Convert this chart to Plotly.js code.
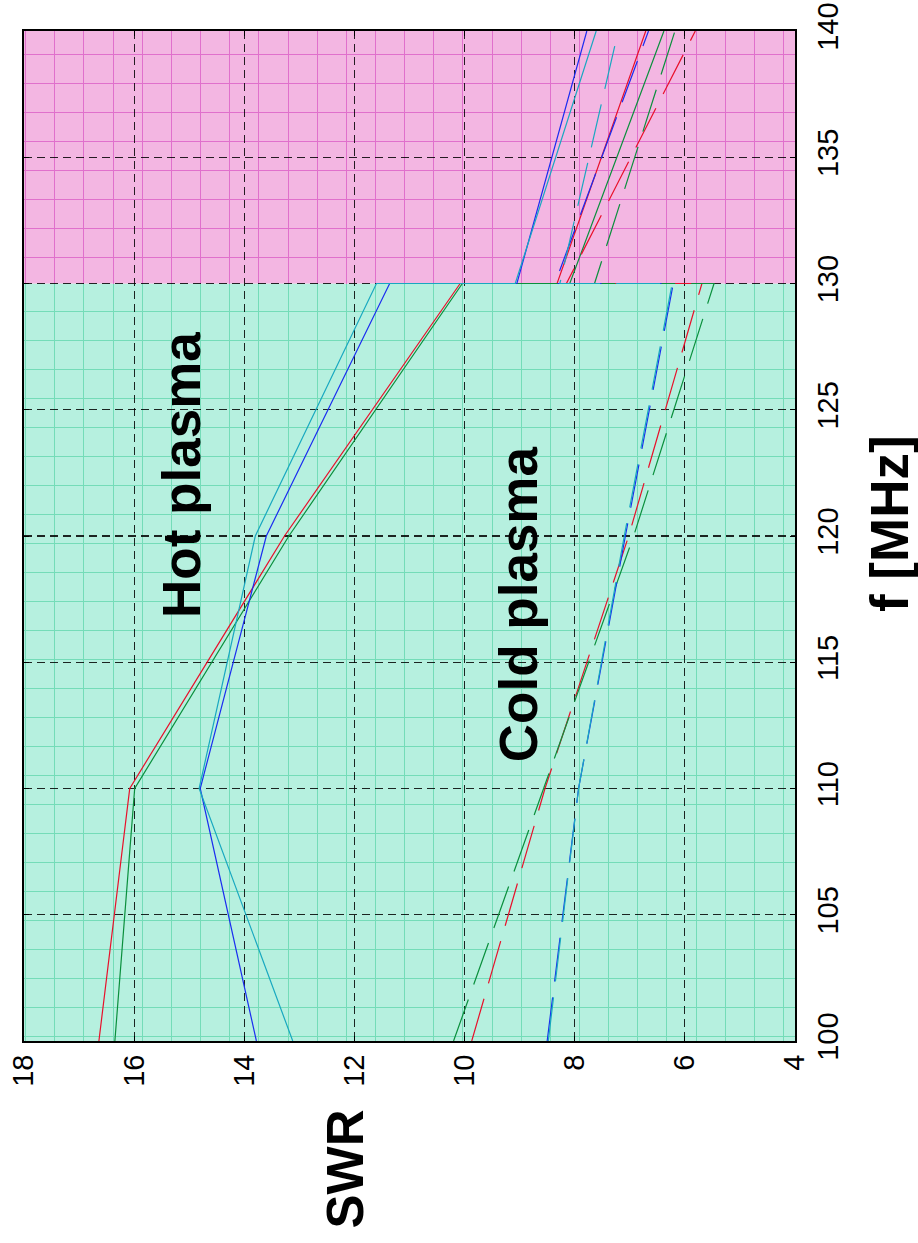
<!DOCTYPE html>
<html>
<head>
<meta charset="utf-8">
<script src="https://cdn.plot.ly/plotly-3.0.1.min.js"></script>
<style>html,body{margin:0;padding:0;background:#fff;}#chart{width:918px;height:1243px;}</style>
</head>
<body>
<div id="chart"></div>
<script>
// Frequency samples (MHz); the value at 130 MHz appears twice (jump between regimes)
var freq = [100, 110, 120, 130, 130, 140];

// Hot plasma SWR (solid lines)
var hotRed   = [16.64, 16.08, 13.27, 10.08, 8.32, 6.71];
var hotGreen = [16.35, 15.99, 13.19, 10.04, 8.09, 6.38];
var hotBlue  = [13.78, 14.80, 13.60, 11.36, 9.05, 7.78];
var hotCyan  = [13.12, 14.82, 13.80, 11.60, 9.08, 7.61];

// Cold plasma SWR (dashed lines)
var coldRed   = [9.87, 8.54, 7.02, 5.69, 8.15, 5.81];
var coldGreen = [10.20, 8.57, 6.93, 5.47, 7.64, 6.18];
var coldBlue  = [8.50, 7.93, 7.08, 6.21, 8.36, 6.66];
var coldCyan  = [8.48, 7.93, 7.10, 6.23, 8.27, 7.21];

// Axis ticks
var swrTicks = [4, 6, 8, 10, 12, 14, 16, 18];
var freqTicks = [100, 105, 110, 115, 120, 125, 130, 135, 140];

// Shaded regions (f ranges)
var regionLow = [100, 130];
var regionHigh = [130, 140];

var colors = {red: '#e8102a', green: '#0a8f3c', blue: '#1a2cf0', cyan: '#18a8c0'};

function series(x, color, dashed) {
  return {
    x: x, y: freq, type: 'scatter', mode: 'lines',
    xaxis: 'x3', yaxis: 'y3', showlegend: false, hoverinfo: 'skip',
    line: {color: color, width: 1.2, dash: dashed ? '44px,16px' : 'solid'}
  };
}

var traces = [
  {x: [], y: [], xaxis: 'x', yaxis: 'y', type: 'scatter', mode: 'lines', showlegend: false, hoverinfo: 'skip'},
  {x: [], y: [], xaxis: 'x2', yaxis: 'y2', type: 'scatter', mode: 'lines', showlegend: false, hoverinfo: 'skip'},
  series(hotRed, colors.red, false),
  series(hotGreen, colors.green, false),
  series(hotBlue, colors.blue, false),
  series(hotCyan, colors.cyan, false),
  series(coldRed, colors.red, true),
  series(coldGreen, colors.green, true),
  series(coldBlue, colors.blue, true),
  series(coldCyan, colors.cyan, true)
];

var W = 918, H = 1243, ml = 24, mr = 123, mt = 31, mb = 202;
var pw = W - ml - mr, ph = H - mt - mb;

function paperGridX(color, anchor) {
  return {domain: [0, 1], range: [0, pw], anchor: anchor, showgrid: true, gridcolor: color, gridwidth: 1,
    tick0: 30.8, dtick: 29.15, zeroline: false, showticklabels: false, ticks: '', showline: false, fixedrange: true};
}
function paperGridY(color, anchor, dom, len, t0) {
  return {domain: dom, range: [0, len], anchor: anchor, showgrid: true, gridcolor: color, gridwidth: 1,
    tick0: t0, dtick: 29, zeroline: false, showticklabels: false, ticks: '', showline: false, fixedrange: true};
}

var font = 'Liberation Sans, Arial, Helvetica, sans-serif';

var layout = {
  width: W, height: H,
  margin: {l: ml, r: mr, t: mt, b: mb},
  paper_bgcolor: '#ffffff',
  plot_bgcolor: 'rgba(0,0,0,0)',
  showlegend: false,
  font: {family: font, color: '#000'},
  xaxis: paperGridX('#74dcb8', 'y'),
  yaxis: paperGridY('#74dcb8', 'x', [0, 0.75], ph * 0.75, 4.7),
  xaxis2: paperGridX('#e070cc', 'y2'),
  yaxis2: paperGridY('#e070cc', 'x2', [0.75, 1], ph * 0.25, 26.2),
  xaxis3: {
    domain: [0, 1], anchor: 'y3', range: [18, 4],
    tickvals: swrTicks, ticktext: swrTicks.map(String), tickangle: -90,
    tickfont: {size: 29, family: font, color: '#000'},
    showgrid: true, gridcolor: 'rgba(0,0,0,0.85)', gridwidth: 1.1, griddash: '8px,5px',
    zeroline: false, showline: true, linecolor: '#000', linewidth: 2, mirror: 'ticks',
    ticks: 'inside', ticklen: 5, tickcolor: '#000', ticklabelstandoff: 0, fixedrange: true
  },
  yaxis3: {
    domain: [0, 1], anchor: 'x3', side: 'right', range: [100, 140],
    tickvals: freqTicks, ticktext: freqTicks.map(String), tickangle: -90,
    tickfont: {size: 29, family: font, color: '#000'},
    showgrid: true, gridcolor: 'rgba(0,0,0,0.85)', gridwidth: 1.1, griddash: '8px,5px',
    zeroline: false, showline: true, linecolor: '#000', linewidth: 2, mirror: 'ticks',
    ticks: 'inside', ticklen: 5, tickcolor: '#000', ticklabelstandoff: 6, fixedrange: true
  },
  shapes: [
    {type: 'rect', xref: 'paper', yref: 'y3', x0: 0, x1: 1, y0: regionLow[0], y1: regionLow[1],
     fillcolor: '#b6f0df', line: {width: 0}, layer: 'below'},
    {type: 'rect', xref: 'paper', yref: 'y3', x0: 0, x1: 1, y0: regionHigh[0], y1: regionHigh[1],
     fillcolor: '#f3b6e2', line: {width: 0}, layer: 'below'}
  ],
  annotations: [
    {text: '<b>Hot plasma</b>', xref: 'x3', yref: 'y3', x: 15.14, y: 122.4, textangle: -90,
     showarrow: false, xanchor: 'center', yanchor: 'middle', font: {size: 53, family: font, color: '#000'}},
    {text: '<b>Cold plasma</b>', xref: 'x3', yref: 'y3', x: 9.03, y: 117.3, textangle: -90,
     showarrow: false, xanchor: 'center', yanchor: 'middle', font: {size: 53, family: font, color: '#000'}},
    {text: '<b>SWR</b>', xref: 'paper', yref: 'paper', x: (344.5 - ml) / pw, y: (H - mb - 1169) / ph, textangle: -90,
     showarrow: false, xanchor: 'center', yanchor: 'middle', font: {size: 51, family: font, color: '#000'}},
    {text: '<b>f [MHz]</b>', xref: 'paper', yref: 'paper', x: (889 - ml) / pw, y: (H - mb - 524) / ph, textangle: -90,
     showarrow: false, xanchor: 'center', yanchor: 'middle', font: {size: 53, family: font, color: '#000'}}
  ]
};

Plotly.newPlot('chart', traces, layout, {displayModeBar: false, staticPlot: true});
</script>
</body>
</html>
